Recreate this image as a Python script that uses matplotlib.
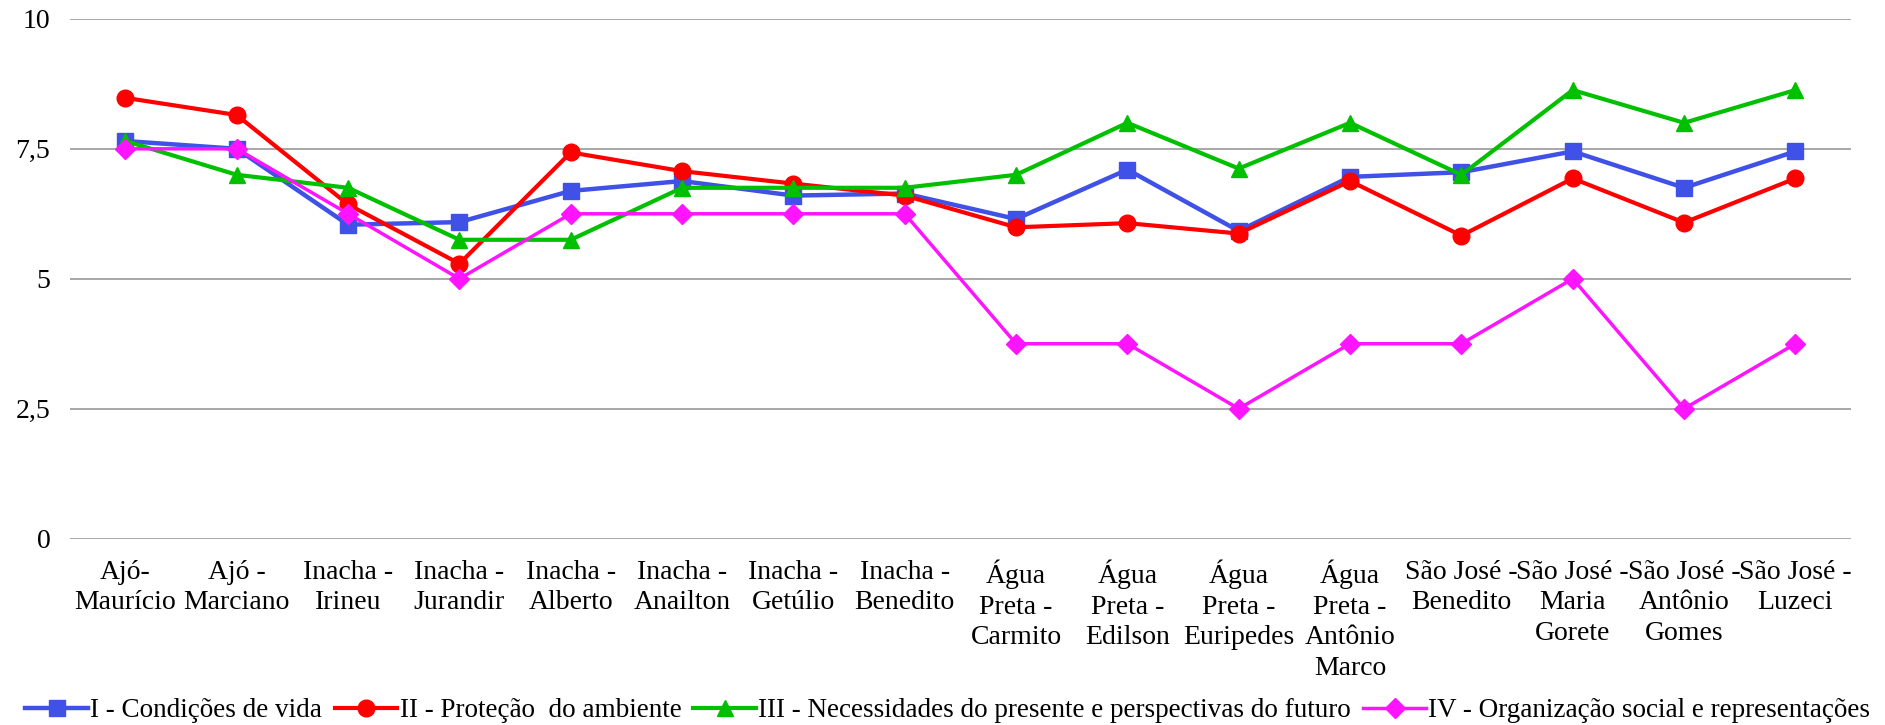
import numpy as np
import matplotlib.pyplot as plt

plt.rcParams['font.family'] = ['Liberation Serif', 'DejaVu Serif']

categorias = ["Ajó-\nMaurício", "Ajó -\nMarciano", "Inacha -\nIrineu", "Inacha -\nJurandir",
              "Inacha -\nAlberto", "Inacha -\nAnailton", "Inacha -\nGetúlio", "Inacha -\nBenedito",
              "Água\nPreta -\nCarmito", "Água\nPreta -\nEdilson", "Água\nPreta -\nEuripedes",
              "Água\nPreta -\nAntônio\nMarco", "São José -\nBenedito", "São José -\nMaria\nGorete",
              "São José -\nAntônio\nGomes", "São José -\nLuzeci"]

condicoes_vida = [7.65, 7.5, 6.04, 6.09, 6.69, 6.88, 6.6, 6.64,
                  6.15, 7.1, 5.92, 6.96, 7.05, 7.45, 6.75, 7.45]
protecao_ambiente = [8.48, 8.15, 6.43, 5.29, 7.43, 7.07, 6.83, 6.6,
                     5.99, 6.07, 5.87, 6.88, 5.83, 6.93, 6.08, 6.93]
necessidades = [7.65, 7.0, 6.75, 5.75, 5.75, 6.75, 6.75, 6.75,
                7.0, 8.0, 7.12, 8.0, 7.0, 8.63, 8.0, 8.63]
organizacao = [7.5, 7.5, 6.25, 5.0, 6.25, 6.25, 6.25, 6.25,
               3.75, 3.75, 2.5, 3.75, 3.75, 5.0, 2.5, 3.75]

series = [
    ("I - Condições de vida", condicoes_vida, '#3F51E6', 's', 3.2),
    ("II - Proteção  do ambiente", protecao_ambiente, '#FF0000', 'o', 3.0),
    ("III - Necessidades do presente e perspectivas do futuro", necessidades, '#00C000', '^', 3.0),
    ("IV - Organização social e representações", organizacao, '#FF14FF', 'D', 2.5),
]

fig, ax = plt.subplots(figsize=(18.85, 7.25), dpi=100)
fig.subplots_adjust(left=0.037, right=0.982, top=0.974, bottom=0.257)

x = np.arange(len(categorias))
for nome, valores, cor, marcador, lw in series:
    ms = 10 if marcador == 'D' else 12
    ax.plot(x, valores, color=cor, marker=marcador, markersize=ms, linewidth=lw, label=nome)

ax.set_xlim(-0.5, len(categorias) - 0.5)
ax.set_ylim(0, 10)
ax.set_yticks([0, 2.5, 5, 7.5, 10])
ax.set_yticklabels(["0", "2,5", "5", "7,5", "10"])
ax.set_xticks(x)
ax.set_xticklabels(categorias, linespacing=1.3)
ax.tick_params(axis='both', length=0, labelsize=20)
ax.tick_params(axis='x', pad=15)
ax.tick_params(axis='y', pad=14)
ax.grid(axis='y', color='#A0A0A0', linewidth=1.3)
ax.set_axisbelow(True)
for s in ax.spines.values():
    s.set_visible(False)

ax.legend(loc='center', bbox_to_anchor=(0.493, -0.331), ncol=4, frameon=False,
          fontsize=19.5, handlelength=2.3, columnspacing=0.45, handletextpad=0.1)

fig.savefig('out.png', dpi=100)
